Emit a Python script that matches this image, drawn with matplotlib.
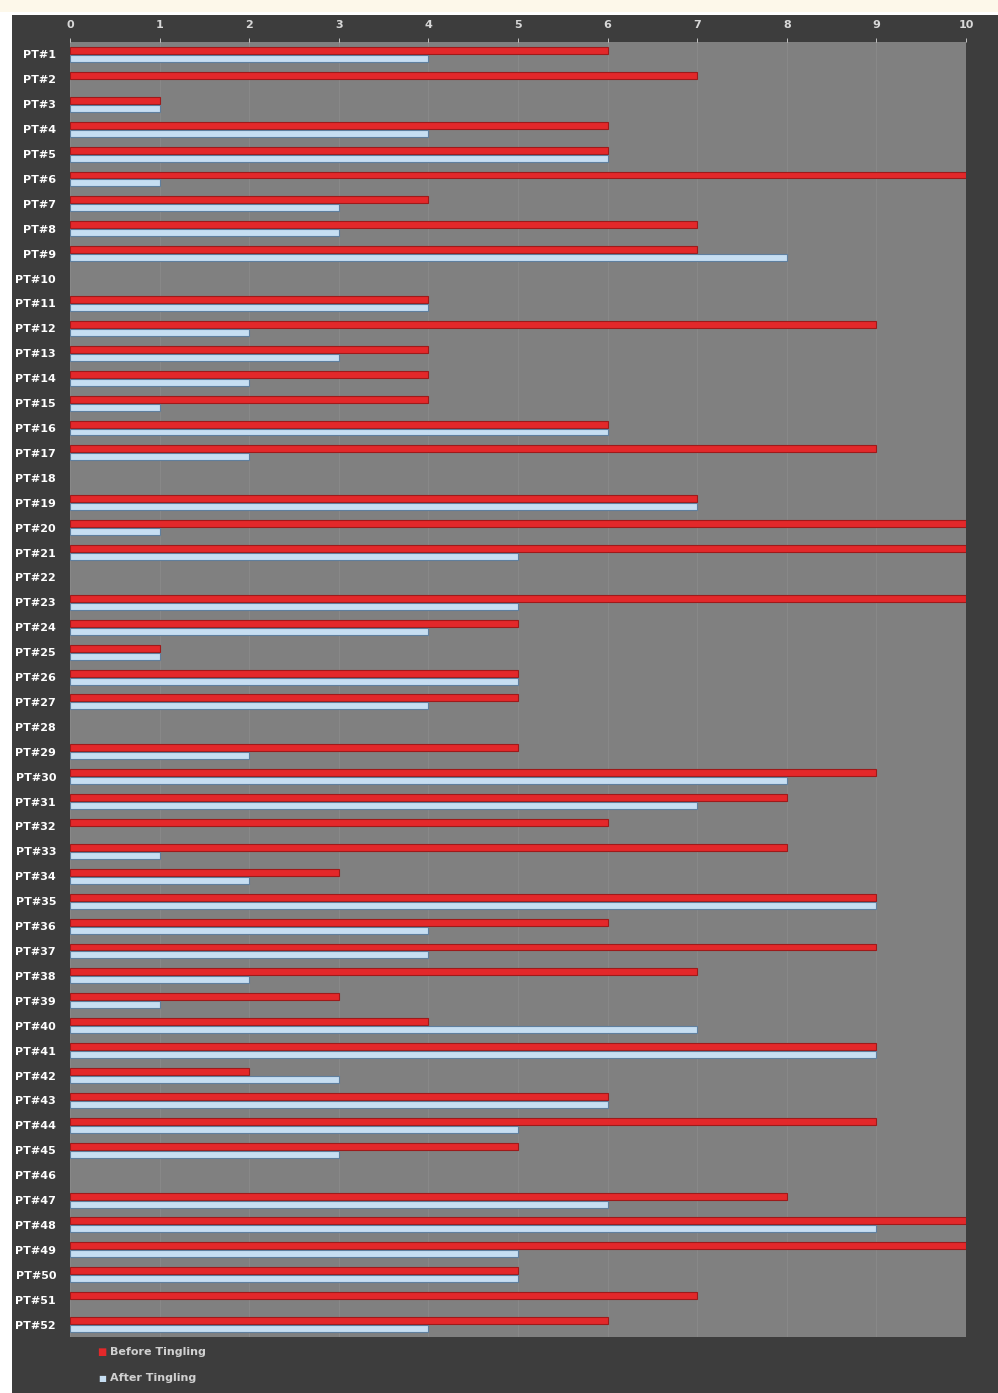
import matplotlib.pyplot as plt
import matplotlib.patches as mpatches
import numpy as np

labels = ["PT#%d" % i for i in range(1, 53)]
before = [6, 7, 1, 6, 6, 10, 4, 7, 7, 0,
          4, 9, 4, 4, 4, 6, 9, 0, 7, 10,
          10, 0, 10, 5, 1, 5, 5, 0, 5, 9,
          8, 6, 8, 3, 9, 6, 9, 7, 3, 4,
          9, 2, 6, 9, 5, 0, 8, 10, 10, 5,
          7, 6]
after = [4, 0, 1, 4, 6, 1, 3, 3, 8, 0,
         4, 2, 3, 2, 1, 6, 2, 0, 7, 1,
         5, 0, 5, 4, 1, 5, 4, 0, 2, 8,
         7, 0, 1, 2, 9, 4, 4, 2, 1, 7,
         9, 3, 6, 5, 3, 0, 6, 9, 5, 5,
         0, 4]
ticks = list(range(0, 11))

W, H = 998, 1393
fig = plt.figure(figsize=(W / 100, H / 100), dpi=100)
fig.patch.set_facecolor("white")

# cream strip on top and dark panel (behind the axes)
fig.patches.append(mpatches.Rectangle((0, 1 - 12 / H), 1, 12 / H, transform=fig.transFigure,
                                      facecolor="#fdf8ea", edgecolor="none", zorder=-2))
fig.patches.append(mpatches.Rectangle((12 / W, 0), 1 - 12 / W, 1 - 15 / H, transform=fig.transFigure,
                                      facecolor="#3d3d3d", edgecolor="none", zorder=-1))

ax = fig.add_axes([70 / W, 1 - 1337 / H, (966 - 70) / W, (1337 - 42) / H])
ax.set_facecolor("#808080")

y = np.arange(len(labels))
h = 0.28
lw_b = [0.8 if v > 0 else 0 for v in before]
lw_a = [0.8 if v > 0 else 0 for v in after]
ax.barh(y - 0.16, before, height=h, color="#e3282a", edgecolor="#9e1a1a", linewidth=lw_b, zorder=3)
ax.barh(y + 0.16, after, height=h, color="#c6def2", edgecolor="#5f7f9e", linewidth=lw_a, zorder=3)

ax.set_xlim(0, 10)
ax.set_ylim(len(labels) - 0.5, -0.5)
ax.set_xticks(ticks)
ax.set_xticklabels([str(t) for t in ticks])
ax.set_yticks(y)
ax.set_yticklabels(labels)
ax.xaxis.tick_top()
ax.tick_params(axis="x", colors="#d8d8d8", labelsize=8, length=3, pad=6, width=0.6)
ax.tick_params(axis="y", colors="white", labelsize=8, length=0, pad=10)
for t in ax.get_xticklabels() + ax.get_yticklabels():
    t.set_fontweight("bold")
ax.grid(axis="x", color="#888888", linewidth=0.8, zorder=1)
for s in ax.spines.values():
    s.set_visible(False)

# legend
fig.text(97 / W, 1 - 1352 / H, "\u25A0", color="#e3282a", fontsize=7, va="center", ha="left")
fig.text(110 / W, 1 - 1352 / H, "Before Tingling", color="#d0d0d0", fontsize=8,
         fontweight="bold", va="center", ha="left")
fig.text(98 / W, 1 - 1378 / H, "\u25A0", color="#c6def2", fontsize=6, va="center", ha="left")
fig.text(110 / W, 1 - 1378 / H, "After Tingling", color="#d0d0d0", fontsize=8,
         fontweight="bold", va="center", ha="left")

fig.savefig("out.png", dpi=100, facecolor=fig.get_facecolor())
